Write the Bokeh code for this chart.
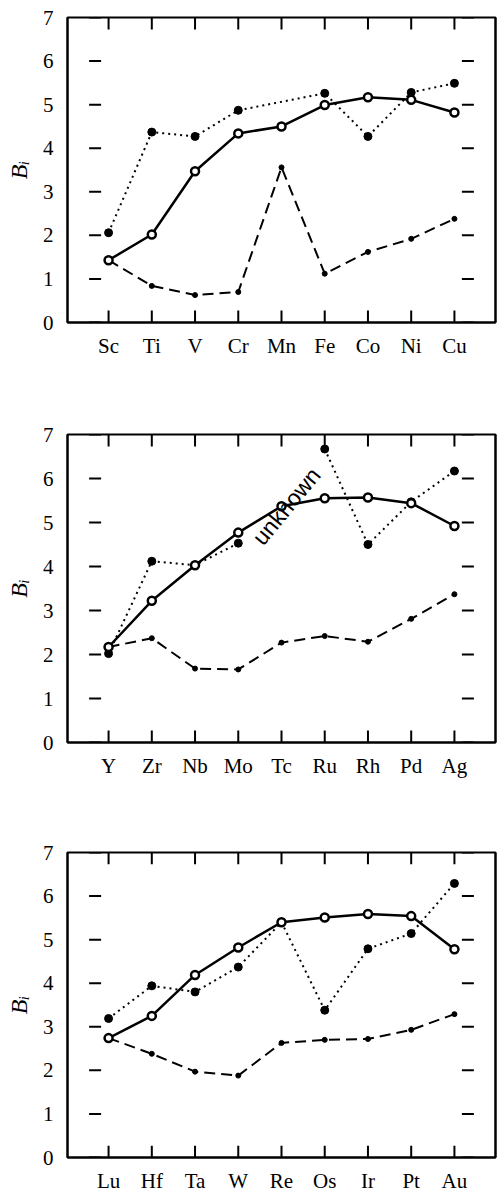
from bokeh.plotting import figure
from bokeh.models import FactorRange, Range1d, FixedTicker, LinearAxis
from bokeh.layouts import column
from bokeh.embed import file_html
from bokeh.resources import INLINE
from bokeh.core.properties import value

NaN = float("nan")

# ---- data ----
elements_3d = ["Sc", "Ti", "V", "Cr", "Mn", "Fe", "Co", "Ni", "Cu"]
solid_3d = [1.43, 2.02, 3.47, 4.34, 4.50, 4.99, 5.17, 5.11, 4.82]
dotted_3d = [2.06, 4.37, 4.27, 4.87, NaN, 5.26, 4.27, 5.28, 5.49]
dashed_3d = [1.43, 0.84, 0.63, 0.70, 3.56, 1.12, 1.62, 1.92, 2.38]

elements_4d = ["Y", "Zr", "Nb", "Mo", "Tc", "Ru", "Rh", "Pd", "Ag"]
solid_4d = [2.17, 3.22, 4.03, 4.77, 5.37, 5.55, 5.57, 5.44, 4.92]
dotted_4d = [2.02, 4.12, 4.03, 4.53, NaN, 6.67, 4.50, 5.47, 6.17]
dashed_4d = [2.17, 2.37, 1.68, 1.66, 2.27, 2.42, 2.29, 2.81, 3.37]

elements_5d = ["Lu", "Hf", "Ta", "W", "Re", "Os", "Ir", "Pt", "Au"]
solid_5d = [2.74, 3.25, 4.19, 4.82, 5.40, 5.51, 5.59, 5.54, 4.78]
dotted_5d = [3.19, 3.94, 3.80, 4.37, 5.40, 3.38, 4.79, 5.14, 6.29]
dashed_5d = [2.74, 2.38, 1.97, 1.88, 2.63, 2.70, 2.72, 2.93, 3.29]

y_ticks = [0, 1, 2, 3, 4, 5, 6, 7]
y_label = "B\u1d62"

# missing dotted values: connect across (True) or leave a gap (False)
connect_missing = [True, False, True]
unknown_note = [None, ("Tc", "unknown"), None]

panels = [
    (elements_3d, solid_3d, dotted_3d, dashed_3d),
    (elements_4d, solid_4d, dotted_4d, dashed_4d),
    (elements_5d, solid_5d, dotted_5d, dashed_5d),
]
# layout: (top border, frame height, bottom border)
layout_spec = [(17, 305, 98), (14, 308, 96), (14, 309, 34)]
W = 498
BL, BR = 67, 3
PAD = 0.45
TICK = 12  # tick length in pixels

SERIF = "Liberation Serif"
figs = []
for k, (els, solid, dotted, dashed) in enumerate(panels):
    tb, fh, bb = layout_spec[k]
    H = tb + fh + bb
    p = figure(
        width=W, height=H,
        x_range=FactorRange(factors=els, range_padding=PAD, range_padding_units="absolute"),
        y_range=Range1d(y_ticks[0], y_ticks[-1]),
        output_backend="svg", toolbar_location=None,
        min_border_left=BL, min_border_right=BR,
        min_border_top=tb, min_border_bottom=bb,
        outline_line_color="black", outline_line_width=2,
        background_fill_color="white", border_fill_color="white",
    )
    p.grid.visible = False

    for ax in [p.xaxis[0], p.yaxis[0]]:
        ax.axis_line_color = "black"
        ax.axis_line_width = 2
        ax.major_tick_in = 0
        ax.major_tick_out = 0
        ax.major_tick_line_color = None
        ax.minor_tick_line_color = None
        ax.major_label_text_font = SERIF
        ax.major_label_text_font_size = "21px"
        ax.major_label_text_color = "black"
    p.xaxis[0].major_label_standoff = 11
    p.yaxis[0].major_label_standoff = 14
    p.yaxis[0].ticker = FixedTicker(ticks=y_ticks)
    p.yaxis[0].axis_label = y_label
    p.yaxis[0].axis_label_text_font = SERIF
    p.yaxis[0].axis_label_text_font_style = "italic"
    p.yaxis[0].axis_label_text_font_size = "24px"
    p.yaxis[0].axis_label_text_color = "black"
    p.yaxis[0].axis_label_standoff = 8

    # right frame edge as a bare axis line (no ticks, no labels)
    right = LinearAxis(ticker=FixedTicker(ticks=[]), axis_line_color="black",
                       axis_line_width=2, major_tick_line_color=None,
                       minor_tick_line_color=None, major_label_standoff=0)
    p.add_layout(right, "right")

    # inward ticks on all four edges, as segments whose length is the
    # pixel tick length converted through the frame scale
    frame_w = W - BL - BR
    x_span = len(els) + 2 * PAD
    dx = TICK * x_span / frame_w
    dy = TICK * (y_ticks[-1] - y_ticks[0]) / fh
    n = len(els)
    m = len(y_ticks)
    top_y = y_ticks[-1]
    bot_y = y_ticks[0]
    p.segment(x0=els, y0=[top_y] * n, x1=els, y1=[top_y - dy] * n,
              line_color="black", line_width=2)
    p.segment(x0=els, y0=[bot_y] * n, x1=els, y1=[bot_y + dy] * n,
              line_color="black", line_width=2)
    p.segment(x0=[(els[0], -PAD)] * m, y0=y_ticks, x1=[(els[0], -PAD + dx)] * m,
              y1=y_ticks, line_color="black", line_width=2)
    p.segment(x0=[(els[-1], PAD)] * m, y0=y_ticks, x1=[(els[-1], PAD - dx)] * m,
              y1=y_ticks, line_color="black", line_width=2)

    # dotted series
    if connect_missing[k]:
        ddx = [e for e, v in zip(els, dotted) if v == v]
        ddy = [v for v in dotted if v == v]
    else:
        ddx, ddy = els, dotted
    p.line(ddx, ddy, line_color="black", line_width=2, line_dash="2 4")
    p.line(els, dashed, line_color="black", line_width=2, line_dash="11 6")
    p.line(els, solid, line_color="black", line_width=2.5)

    p.scatter(els, dashed, marker="circle", size=5, fill_color="black", line_color="black")
    p.scatter(ddx, ddy, marker="circle", size=8, fill_color="black", line_color="black")
    p.scatter(els, solid, marker="circle", size=8, fill_color="white",
              line_color="black", line_width=2.5)

    note = unknown_note[k]
    if note is not None:
        el, txt = note
        yv = solid[els.index(el)]
        p.text(x=[el], y=[yv], text=[txt], angle=0.88, x_offset=5, y_offset=0,
               text_align="center", text_baseline="middle",
               text_font=value("Liberation Sans"), text_font_size="23px",
               text_color="black")
    figs.append(p)

layout = column(*figs, spacing=0)
open("out.html", "w").write(file_html(layout, INLINE))
